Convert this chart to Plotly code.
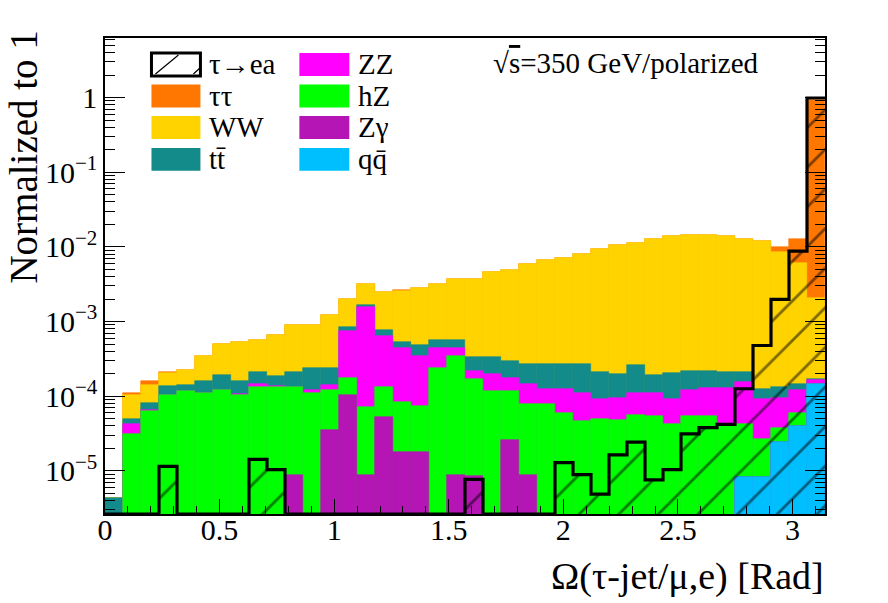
import numpy as np
import plotly.graph_objects as go

# ---------------- data ----------------
n_bins = 40
x_min, x_max = 0.0, np.pi

# Cumulative stack levels (as drawn by a THStack), bottom -> top
level_qq = [0, 0, 0, 0, 0, 0, 0, 0, 0, 0,
            0, 0, 0, 0, 0, 0, 0, 0, 0, 0,
            0, 0, 0, 0, 0, 0, 0, 0, 0, 0,
            0, 0, 0, 0, 0, 8.3e-6, 8.3e-6, 2.43e-5, 3.94e-5, 1.47e-4]
level_zgamma = [0, 0, 0, 0, 0, 0, 0, 0, 0, 0,
                8.7e-6, 0, 3.5e-5, 1.03e-4, 8.7e-6, 5.2e-5, 1.77e-5, 1.77e-5, 0, 8.7e-6,
                8.5e-6, 0, 2.6e-5, 8.7e-6, 0, 0, 0, 0, 0, 0,
                0, 0, 0, 0, 0, 8.3e-6, 8.3e-6, 2.43e-5, 3.94e-5, 1.47e-4]
level_hz = [0, 3.15e-5, 6.4e-5, 1.03e-4, 1.16e-4, 1.11e-4, 1.23e-4, 1.05e-4, 1.32e-4, 1.32e-4,
            1.32e-4, 1.12e-4, 1.22e-4, 1.75e-4, 7.1e-5, 1.31e-4, 8.4e-5, 7.5e-5, 2.38e-4, 3.44e-4,
            1.68e-4, 1.17e-4, 1.17e-4, 7.9e-5, 7.9e-5, 5.9e-5, 4.6e-5, 5.0e-5, 4.8e-5, 5.65e-5,
            5.5e-5, 4.3e-5, 5.5e-5, 5.5e-5, 3.94e-5, 4.3e-5, 2.7e-5, 3.8e-5, 5.9e-5, 1.47e-4]
level_zz = [0, 4.24e-5, 6.5e-5, 1.03e-4, 1.16e-4, 1.11e-4, 1.23e-4, 1.06e-4, 1.44e-4, 1.37e-4,
            1.33e-4, 1.22e-4, 1.4e-4, 7.4e-4, 1.56e-3, 6.5e-4, 4.46e-4, 3.5e-4, 4.4e-4, 4.4e-4,
            2.21e-4, 2.0e-4, 1.75e-4, 1.47e-4, 1.26e-4, 1.26e-4, 1.11e-4, 9.2e-5, 9.5e-5, 1.1e-4,
            1.1e-4, 9.2e-5, 1.2e-4, 1.28e-4, 1.28e-4, 1.55e-4, 9.2e-5, 9.5e-5, 1.2e-4, 1.66e-4]
level_tt = [4.3e-6, 4.9e-5, 8.2e-5, 1.37e-4, 1.4e-4, 1.61e-4, 1.92e-4, 1.61e-4, 2.1e-4, 1.88e-4,
            2.1e-4, 2.38e-4, 2.38e-4, 8.4e-4, 1.68e-3, 7.8e-4, 5.25e-4, 4.8e-4, 5.6e-4, 5.6e-4,
            3.34e-4, 3.34e-4, 3.0e-4, 2.72e-4, 2.72e-4, 2.72e-4, 2.67e-4, 2.1e-4, 2.0e-4, 2.58e-4,
            1.9e-4, 2.06e-4, 2.21e-4, 2.17e-4, 2.1e-4, 2.1e-4, 1.26e-4, 1.32e-4, 1.44e-4, 1.7e-4]
level_ww = [4.3e-6, 1.03e-4, 1.4e-4, 2.06e-4, 2.26e-4, 3.44e-4, 5.04e-4, 5.25e-4, 5.58e-4, 6.66e-4,
            8.9e-4, 9.06e-4, 1.23e-3, 2.0e-3, 3.2e-3, 2.48e-3, 2.6e-3, 2.83e-3, 3.14e-3, 3.74e-3,
            3.74e-3, 4.59e-3, 4.83e-3, 5.93e-3, 6.7e-3, 7.15e-3, 8.07e-3, 9.4e-3, 1.07e-2, 1.12e-2,
            1.26e-2, 1.38e-2, 1.44e-2, 1.44e-2, 1.38e-2, 1.28e-2, 1.19e-2, 8.5e-3, 6.05e-3, 2.08e-3]
level_tautau = [4.3e-6, 1.09e-4, 1.58e-4, 2.08e-4, 2.27e-4, 3.45e-4, 5.05e-4, 5.26e-4, 5.6e-4, 6.68e-4,
                8.92e-4, 9.1e-4, 1.235e-3, 2.01e-3, 3.21e-3, 2.49e-3, 2.61e-3, 2.84e-3, 3.15e-3, 3.75e-3,
                3.75e-3, 4.6e-3, 4.85e-3, 5.95e-3, 6.72e-3, 7.17e-3, 8.1e-3, 9.45e-3, 1.075e-2, 1.125e-2,
                1.27e-2, 1.39e-2, 1.45e-2, 1.45e-2, 1.39e-2, 1.29e-2, 1.2e-2, 1.01e-2, 1.26e-2, 0.93]

# Signal tau -> e a (normalized to 1)
signal = [0, 0, 0, 1.15e-5, 0, 0, 0, 0, 1.43e-5, 1.04e-5,
          0, 0, 0, 0, 0, 0, 0, 0, 0, 0,
          7.7e-6, 0, 0, 0, 0, 1.29e-5, 8.9e-6, 4.9e-6, 1.64e-5, 2.43e-5,
          7.6e-6, 1.04e-5, 3.14e-5, 3.8e-5, 4.2e-5, 1.26e-4, 4.78e-4, 1.98e-3, 8.77e-3, 0.985]

labels = ["τ→ea", "ττ", "WW", "tt\u0304", "ZZ", "hZ", "Zγ", "qq\u0304"]
x_ticks = [0, 0.5, 1, 1.5, 2, 2.5, 3]
x_tick_labels = ["0", "0.5", "1", "1.5", "2", "2.5", "3"]
y_ticks = [1e-5, 1e-4, 1e-3, 1e-2, 1e-1, 1]
y_tick_labels = ["10<sup>\u22125</sup>", "10<sup>\u22124</sup>", "10<sup>\u22123</sup>",
                 "10<sup>\u22122</sup>", "10<sup>\u22121</sup>", "1"]

# ---------------- styling ----------------
colors = {
    "ττ": "#FF7700",
    "WW": "#FFD300",
    "tt\u0304": "#138B8B",
    "ZZ": "#FF00FF",
    "hZ": "#00FF00",
    "Zγ": "#B515B5",
    "qq\u0304": "#00BFFF",
}
FONT = "Liberation Serif, Tinos, Times New Roman, DejaVu Serif, serif"
y_lo, y_hi = -5.577, 0.797

edges = np.linspace(x_min, x_max, n_bins + 1)
centers = 0.5 * (edges[:-1] + edges[1:])
bw = edges[1] - edges[0]


def nz(v):
    return [val if val > 0 else None for val in v]


fig = go.Figure()

stack = [("ττ", level_tautau), ("WW", level_ww), ("tt\u0304", level_tt), ("ZZ", level_zz),
         ("hZ", level_hz), ("Zγ", level_zgamma), ("qq\u0304", level_qq)]
for name, lev in stack:
    fig.add_trace(go.Bar(x=centers, y=nz(lev), width=bw, name=name, showlegend=False,
                         marker=dict(color=colors[name], line=dict(width=0.6, color=colors[name]))))

# signal: hatched fill + thick step outline
fig.add_trace(go.Bar(x=centers, y=nz(signal), width=bw, name="τ→ea", showlegend=False,
                     marker=dict(color="rgba(0,0,0,0)", line=dict(width=0),
                                 pattern=dict(shape="/", fgcolor="black", bgcolor="rgba(0,0,0,0)",
                                              size=28, solidity=0.1, fillmode="overlay"))))
floor = 10 ** y_lo
sig_line = [v if v > 0 else floor for v in signal]
fig.add_trace(go.Scatter(x=list(edges), y=sig_line + [sig_line[-1]], mode="lines",
                         line=dict(shape="hv", color="black", width=3.2), showlegend=False,
                         hoverinfo="skip"))

# ---------------- layout ----------------
L, R, T, B = 104.5, 825.0, 37.5, 514.0
W_, H_ = 888, 603


def pp(px, py):
    return (px - L) / (R - L), (B - py) / (B - T)


shapes = []
annotations = []
rows_y = [64, 95.5, 127, 159]
col_box = [(151, 200), (299, 349)]
col_text = [207, 356]
legend_layout = [[labels[0], labels[1], labels[2], labels[3]],
                 [labels[4], labels[5], labels[6], labels[7]]]
for ci, col in enumerate(legend_layout):
    for ri, name in enumerate(col):
        x0, x1 = col_box[ci]
        yc = rows_y[ri]
        a0 = pp(x0, yc + 11.5)
        a1 = pp(x1, yc - 11.5)
        if name == "τ→ea":
            shapes.append(dict(type="rect", xref="paper", yref="paper", x0=a0[0], y0=a0[1],
                               x1=a1[0], y1=a1[1], fillcolor="white",
                               line=dict(color="black", width=3)))
            p0 = pp(155, yc + 9.5); p1 = pp(178, yc - 9.5)
            shapes.append(dict(type="line", xref="paper", yref="paper", x0=p0[0], y0=p0[1],
                               x1=p1[0], y1=p1[1], line=dict(color="black", width=1.2)))
            p0 = pp(193, yc + 9.5); p1 = pp(200, yc + 3)
            shapes.append(dict(type="line", xref="paper", yref="paper", x0=p0[0], y0=p0[1],
                               x1=p1[0], y1=p1[1], line=dict(color="black", width=1.2)))
        else:
            shapes.append(dict(type="rect", xref="paper", yref="paper", x0=a0[0], y0=a0[1],
                               x1=a1[0], y1=a1[1], fillcolor=colors[name], line=dict(width=0)))
        tp = pp(col_text[ci], yc)
        annotations.append(dict(x=tp[0], y=tp[1], xref="paper", yref="paper", text=name,
                                showarrow=False, xanchor="left", yanchor="middle",
                                font=dict(family=FONT, size=29, color="black")))

# energy label
ep = pp(761, 63)
annotations.append(dict(x=ep[0], y=ep[1], xref="paper", yref="paper",
                        text="\u221A<span style='text-decoration:overline'>s</span>=350 GeV/polarized",
                        showarrow=False, xanchor="right", yanchor="middle",
                        font=dict(family=FONT, size=29, color="black")))
# axis titles
yt = pp(22, 28)
annotations.append(dict(x=yt[0], y=yt[1], xref="paper", yref="paper", text="Normalized to 1",
                        textangle=-90, showarrow=False, xanchor="center", yanchor="top",
                        font=dict(family=FONT, size=39, color="black")))
xt = pp(826, 577)
annotations.append(dict(x=xt[0], y=xt[1], xref="paper", yref="paper",
                        text="\u03A9(τ-jet/μ,e) [Rad]",
                        showarrow=False, xanchor="right", yanchor="middle",
                        font=dict(family=FONT, size=38, color="black")))

minor_y = [m * 10.0 ** e for e in range(-6, 1) for m in range(2, 10)
           if y_lo <= np.log10(m * 10.0 ** e) <= y_hi]

fig.update_layout(
    width=W_, height=H_,
    margin=dict(l=L, r=W_ - R, t=T, b=H_ - B, pad=0),
    paper_bgcolor="white", plot_bgcolor="white",
    barmode="overlay", bargap=0,
    shapes=shapes, annotations=annotations,
    font=dict(family=FONT, color="black"),
    xaxis=dict(range=[x_min, x_max], showgrid=False, zeroline=False,
               showline=True, linecolor="black", linewidth=1.5, mirror=True,
               ticks="inside", ticklen=15, tickwidth=1.2, tickcolor="black",
               tickmode="array", tickvals=x_ticks, ticktext=x_tick_labels,
               ticklabelstandoff=-12,
               tickfont=dict(family=FONT, size=30, color="black"),
               minor=dict(ticks="inside", ticklen=8, tickwidth=1.2, tickcolor="black",
                          tickmode="array", tickvals=[round(0.1 * i, 2) for i in range(32)]),
               layer="above traces"),
    yaxis=dict(type="log", range=[y_lo, y_hi], showgrid=False, zeroline=False,
               showline=True, linecolor="black", linewidth=1.5, mirror="allticks",
               ticks="inside", ticklen=20, tickwidth=1.2, tickcolor="black",
               tickmode="array", tickvals=y_ticks, ticktext=y_tick_labels,
               tickfont=dict(family=FONT, size=30, color="black"),
               minor=dict(ticks="inside", ticklen=10, tickwidth=1.2, tickcolor="black",
                          tickmode="array", tickvals=minor_y),
               layer="above traces"),
)

fig.write_html("out.html", config={"displayModeBar": False},
               post_script="document.body.style.margin='0';document.body.style.overflow='hidden';")
